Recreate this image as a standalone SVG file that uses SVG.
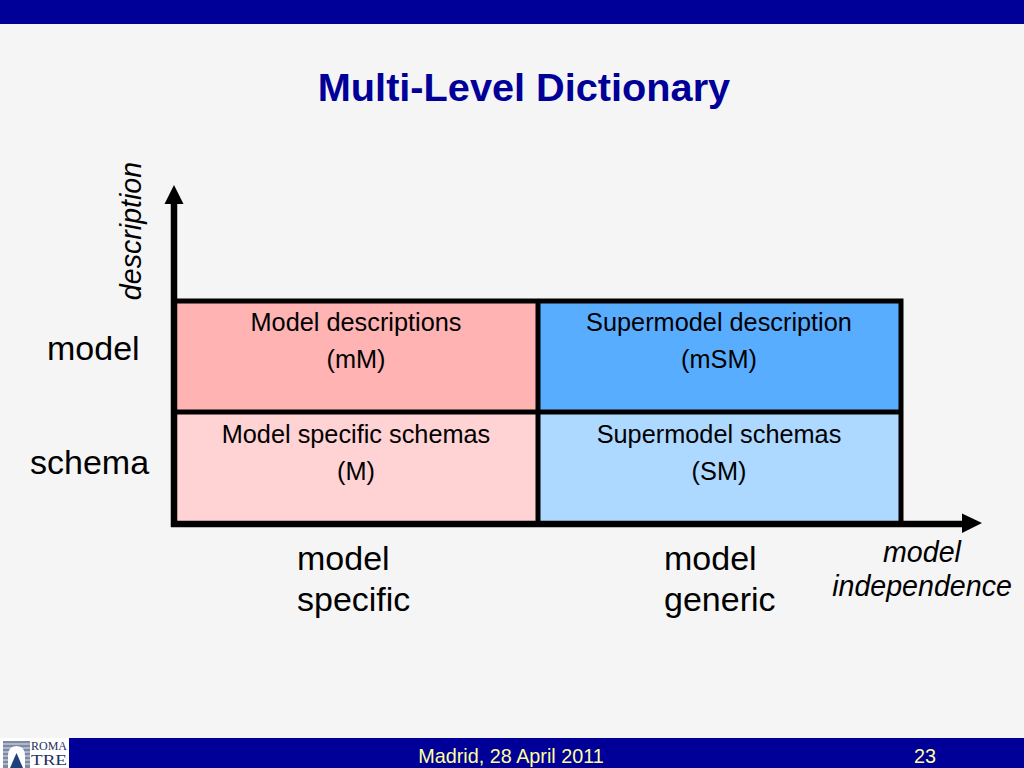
<svg xmlns="http://www.w3.org/2000/svg" width="1024" height="768" viewBox="0 0 1024 768">
<style>
text{font-family:"Liberation Sans",Arial,sans-serif;fill:#000}
.cell{font-size:25.300px;text-anchor:middle}
.big{font-size:34px}
.it{font-size:28.600px;font-style:italic}
.frame{stroke:#000;stroke-width:5;fill:none}
.axis{stroke:#000;stroke-width:6.500;fill:none}
.foot{font-size:19.800px;fill:#ffff99;text-anchor:middle}
</style>
<rect width="1024" height="768" fill="#f5f5f5"/>
<rect id="top-bar" width="1024" height="24" fill="#000099"/>
<rect id="bottom-bar" x="69" y="738" width="955" height="30" fill="#000099"/>
<g id="logo">
<rect x="0" y="738" width="69" height="30" fill="#fff"/>
<rect x="3" y="741" width="27" height="27" fill="#7c8aa6"/>
<path d="M3 744H30M3 748H30M3 752H30M3 756H30M3 760H30M3 764H30" stroke="#dfe3ea" stroke-width="1.200"/>
<path d="M8 768V756Q8 746 16.500 746Q25 746 25 756V768Z" fill="#fff"/>
<path d="M10 768L16.500 753L23 768Z" fill="#1f3f7f"/>
<text x="31" y="750" style="font-family:'Liberation Serif',serif;font-size:12px;fill:#1f2f5f" textLength="36" lengthAdjust="spacingAndGlyphs">ROMA</text>
<text x="31" y="764.500" style="font-family:'Liberation Serif',serif;font-size:15px;fill:#1f2f5f" textLength="36" lengthAdjust="spacingAndGlyphs">TRE</text>
</g>
<text id="title" x="524" y="101" text-anchor="middle" style="font-size:39.700px;font-weight:bold;fill:#000099">Multi-Level Dictionary</text>
<g id="cell-mM"><rect x="175" y="301" width="363" height="111" fill="#ffb3b3"/>
<text class="cell" x="356" y="331">Model descriptions</text><text class="cell" x="356" y="368">(mM)</text></g>
<g id="cell-mSM"><rect x="538" y="301" width="363" height="111" fill="#59adff"/>
<text class="cell" x="719" y="331">Supermodel description</text><text class="cell" x="719" y="368">(mSM)</text></g>
<g id="cell-M"><rect x="175" y="412" width="363" height="112" fill="#ffd2d4"/>
<text class="cell" x="356" y="443">Model specific schemas</text><text class="cell" x="356" y="480">(M)</text></g>
<g id="cell-SM"><rect x="538" y="412" width="363" height="112" fill="#add8ff"/>
<text class="cell" x="719" y="443">Supermodel schemas</text><text class="cell" x="719" y="480">(SM)</text></g>
<g id="connectors">
<path class="frame" d="M175 301H901V524M175 412H901M538 301V524"/>
<path class="axis" d="M174 527V202M171 524H966"/>
<path d="M174 185L183.500 204H164.500Z"/>
<path d="M982 523L962 513.500V533Z"/>
</g>
<g id="labels">
<text class="big" x="47" y="360">model</text>
<text class="big" x="30" y="474">schema</text>
<text class="big" x="297" y="570">model</text>
<text class="big" x="297" y="611">specific</text>
<text class="big" x="664" y="570">model</text>
<text class="big" x="664" y="611">generic</text>
<text class="it" x="922" y="562" text-anchor="middle">model</text>
<text class="it" x="922" y="596" text-anchor="middle">independence</text>
<text class="it" transform="translate(141 231) rotate(-90)" text-anchor="middle">description</text>
</g>
<g id="footer">
<text class="foot" x="511" y="763">Madrid, 28 April 2011</text>
<text class="foot" x="925" y="763">23</text>
</g>
</svg>
